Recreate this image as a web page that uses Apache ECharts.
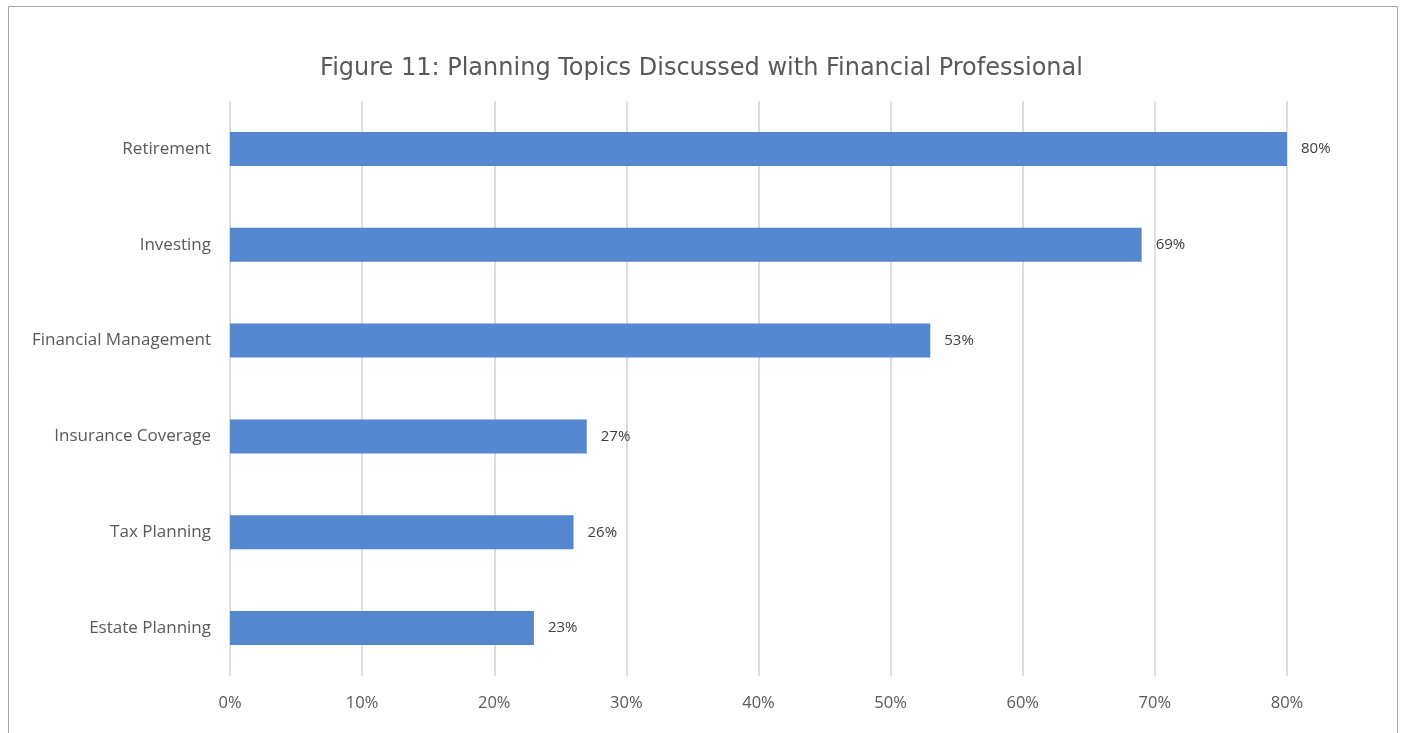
<!DOCTYPE html>
<html>
<head>
<meta charset="utf-8">
<script src="https://cdn.jsdelivr.net/npm/echarts@6/dist/echarts.min.js"></script>
<style>
html, body { margin: 0; padding: 0; background: #fff; }
#chart { width: 1403px; height: 733px; }
</style>
</head>
<body>
<div id="chart"></div>
<script>
const categories = ['Retirement', 'Investing', 'Financial Management', 'Insurance Coverage', 'Tax Planning', 'Estate Planning'];
const values = [80, 69, 53, 27, 26, 23];
const titleText = 'Figure 11: Planning Topics Discussed with Financial Professional';

const chart = echarts.init(document.getElementById('chart'));

const option = {
    animation: false,
    backgroundColor: '#fff',
    title: {
        text: titleText,
        left: 'center',
        top: 52,
        textStyle: {
            fontFamily: 'DejaVu Sans',
            fontSize: 24,
            fontWeight: 'normal',
            color: '#595959'
        }
    },
    graphic: [
        {
            type: 'rect',
            shape: { x: 8.5, y: 6.5, width: 1389, height: 800 },
            style: { fill: 'none', stroke: '#a6a6a6', lineWidth: 1 }
        }
    ],
    grid: {
        left: 230,
        right: 116,
        top: 101,
        bottom: 57
    },
    xAxis: {
        type: 'value',
        min: 0,
        max: 80,
        interval: 10,
        axisLine: { show: false },
        axisTick: { show: false },
        splitLine: { lineStyle: { color: '#dedede', width: 2 } },
        axisLabel: {
            formatter: '{value}%',
            margin: 19,
            fontFamily: 'Open Sans',
            fontSize: 16.5,
            color: '#595959'
        }
    },
    yAxis: {
        type: 'category',
        inverse: true,
        data: categories,
        axisLine: { show: false },
        axisTick: { show: false },
        axisLabel: {
            margin: 19,
            fontFamily: 'Open Sans',
            fontSize: 17,
            color: '#595959'
        }
    },
    series: [
        {
            type: 'bar',
            data: values,
            barWidth: 34,
            itemStyle: { color: '#5587d0' },
            label: {
                show: true,
                position: 'right',
                distance: 14,
                formatter: '{c}%',
                fontFamily: 'Open Sans',
                fontSize: 15,
                color: '#404040'
            }
        }
    ]
};

chart.setOption(option);
</script>
</body>
</html>
